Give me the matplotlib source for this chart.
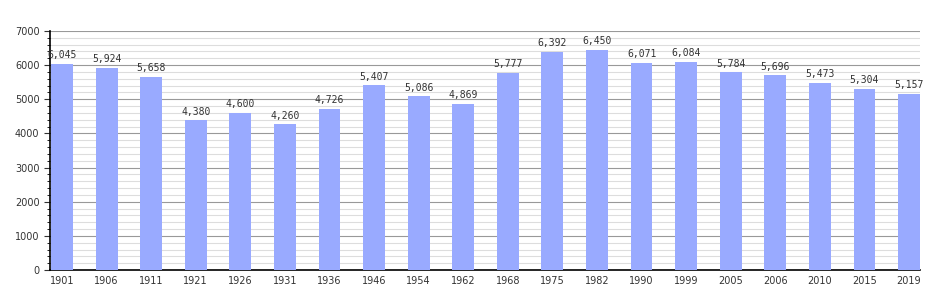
import matplotlib
matplotlib.use("Agg")
import matplotlib.pyplot as plt
from matplotlib.ticker import MultipleLocator

years = ["1901", "1906", "1911", "1921", "1926", "1931", "1936", "1946", "1954", "1962",
         "1968", "1975", "1982", "1990", "1999", "2005", "2006", "2010", "2015", "2019"]
population = [6045, 5924, 5658, 4380, 4600, 4260, 4726, 5407, 5086, 4869,
              5777, 6392, 6450, 6071, 6084, 5784, 5696, 5473, 5304, 5157]

fig = plt.figure(figsize=(9.5, 3), dpi=100)
ax = fig.add_axes([0.0526, 0.1, 0.9158, 0.797])

x = range(len(years))
ax.bar(x, population, width=0.49, color="#99aaff", zorder=3)

for xi, v in zip(x, population):
    ax.text(xi, v + 110, f"{v:,}", ha="center", va="bottom", fontsize=7,
            family="DejaVu Sans Mono", color="#333333", zorder=4)

ax.set_ylim(0, 7000)
ax.set_xlim(-0.27, len(years) - 1 + 0.245)
ax.yaxis.set_major_locator(MultipleLocator(1000))
ax.yaxis.set_minor_locator(MultipleLocator(200))
ax.grid(axis="y", which="major", color="#999999", linewidth=0.8, zorder=0)
ax.grid(axis="y", which="minor", color="#dddddd", linewidth=0.8, zorder=0)

ax.set_xticks(list(x))
ax.set_xticklabels(years)
ax.tick_params(axis="x", length=0, labelsize=7, colors="#333333", pad=4)
ax.tick_params(axis="y", which="major", length=4, labelsize=7, colors="#333333", direction="out")
ax.tick_params(axis="y", which="minor", length=2, direction="out")

for s in ["top", "right"]:
    ax.spines[s].set_visible(False)
ax.spines["left"].set_linewidth(1.2)
ax.spines["bottom"].set_linewidth(1.2)

fig.savefig("out.png", dpi=100)
